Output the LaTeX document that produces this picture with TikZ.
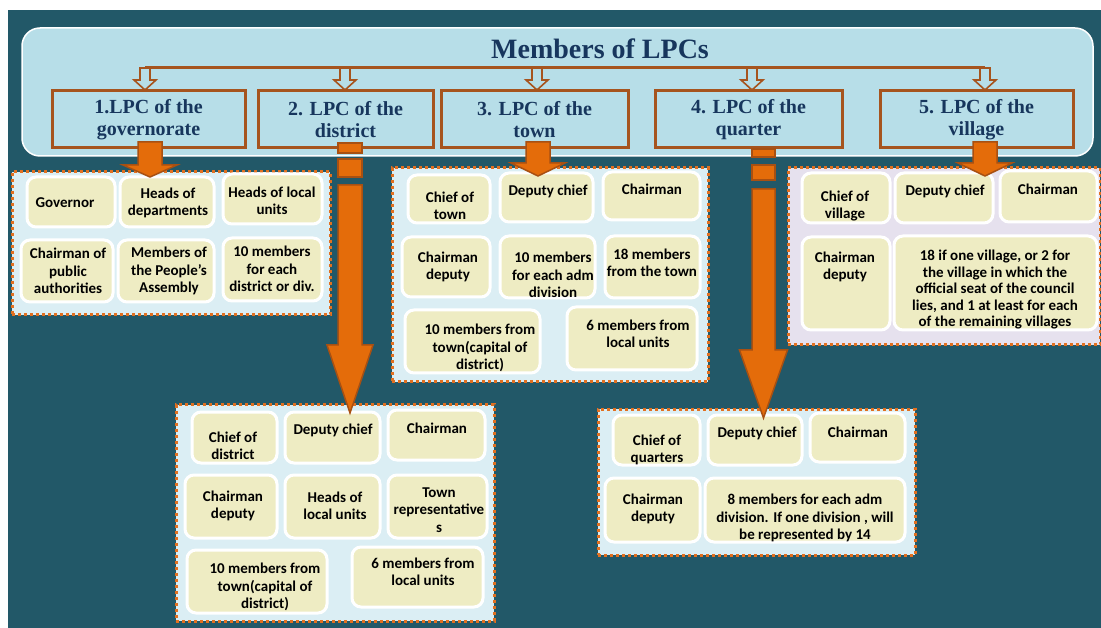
\documentclass[tikz,border=0pt]{standalone}
\usepackage{fontspec}
\setmainfont{Carlito}
\newfontfamily\serifbold{Liberation Serif}
\definecolor{darkbg}{RGB}{34,88,104}
\definecolor{hdrblue}{RGB}{183,222,232}
\definecolor{brownc}{RGB}{166,84,30}
\definecolor{navy}{RGB}{23,54,93}
\definecolor{orangef}{RGB}{228,108,10}
\definecolor{oranged}{RGB}{168,80,18}
\definecolor{grpblue}{RGB}{219,238,244}
\definecolor{grplav}{RGB}{230,225,238}
\definecolor{cellc}{RGB}{238,236,195}
\definecolor{dotc}{RGB}{226,112,32}
\tikzset{
  cell/.style={draw=white, line width=3pt, fill=cellc, rounded corners=9pt, inner sep=0pt},
  grp/.style={draw=dotc, line width=3pt, dash pattern=on 3pt off 3pt, fill=grpblue, inner sep=0pt},
  lpcbox/.style={draw=brownc, line width=3pt, fill=hdrblue, inner sep=0pt},
  ctext/.style={inner sep=0pt, align=center, text=black, font=\bfseries\fontsize{15}{17.5}\selectfont},
  ltext/.style={inner sep=0pt, align=center, text=navy, font=\serifbold\bfseries\fontsize{20}{22.5}\selectfont},
  barrow/.style={draw=oranged, line width=1.5pt, fill=orangef},
  harrow/.style={draw=brownc, line width=1.6pt, fill=hdrblue},
}
\newcommand{\boxat}[6]{% style name x1 y1 x2 y2
  \pgfmathsetmacro\bw{#5-#3}\pgfmathsetmacro\bh{#6-#4}%
  \node[#1, minimum width=\bw pt, minimum height=\bh pt] (#2) at ({(#3+#5)/2},{(#4+#6)/2}) {};}
\newcommand{\bigarrow}[6]{% x ytop yhead ytip shaftw headw
  \draw[barrow] ({#1-#5/2},#2) -- ({#1+#5/2},#2) -- ({#1+#5/2},#3) -- ({#1+#6/2},#3) -- (#1,#4) -- ({#1-#6/2},#3) -- ({#1-#5/2},#3) -- cycle;}
\newcommand{\hollowarrow}[1]{%
  \draw[harrow] ({#1-5},68) -- ({#1+5},68) -- ({#1+5},80) -- ({#1+11},80) -- (#1,90) -- ({#1-11},80) -- ({#1-5},80) -- cycle;}
\begin{document}
\begin{tikzpicture}[x=1pt,y=-1pt]
\useasboundingbox (0,0) rectangle (1101,628);
\fill[white] (0,0) rectangle (1101,628);
\fill[darkbg] (8,10) rectangle (1101,628);
% header
\node[draw=white, line width=1.5pt, fill=hdrblue, rounded corners=18pt, minimum width=1071pt, minimum height=128pt, inner sep=0pt] (header) at (557.5,92) {};
\node[inner sep=0pt, text=navy, font=\serifbold\bfseries\fontsize{28}{30}\selectfont] (title) at (600,49) {Members of LPCs};
\draw[brownc, line width=3pt] (145,68) coordinate (hl) -- (985,68) coordinate (hr);
\hollowarrow{145}\hollowarrow{345}\hollowarrow{537}\hollowarrow{752}\hollowarrow{985}
% LPC boxes
\boxat{lpcbox}{b1}{52}{91}{245}{148}
\boxat{lpcbox}{b2}{258}{91}{433}{148}
\boxat{lpcbox}{b3}{441}{91}{628}{148}
\boxat{lpcbox}{b4}{655}{91}{842}{148}
\boxat{lpcbox}{b5}{880}{91}{1073}{148}
\node[ltext] (b1t) at (b1) {1.LPC of the\\governorate};
\node[ltext] (b2t) at (b2) {2. LPC of the\\district};
\node[ltext] (b3t) at (b3) {3. LPC of the\\town};
\node[ltext] (b4t) at (b4) {4. LPC of the\\quarter};
\node[ltext] (b5t) at (b5) {5. LPC of the\\village};
% groups
\boxat{grp}{g1}{12}{172}{330}{315}
\boxat{grp}{g3}{392}{168}{708}{382}
\boxat{grp, fill=grplav}{g5}{788}{168}{1100}{345}
\boxat{grp}{g2}{176}{405}{494}{621}
\boxat{grp}{g4}{598}{409}{915}{555}
% G1 cells
\boxat{cell}{c11}{27}{177}{115}{227}
\boxat{cell}{c12}{120}{177}{214}{227}
\boxat{cell}{c13}{223}{174}{322}{224}
\boxat{cell}{c14}{21}{240}{113}{302}
\boxat{cell}{c15}{118}{240}{214}{302}
\boxat{cell}{c16}{223}{238}{322}{301}
\node[ctext] (c11t) at (65,203) {Governor};
\node[ctext] (c12t) at (168,203) {Heads of\\departments};
\node[ctext] (c13t) at (272,201) {Heads of local\\units};
\node[ctext] (c14t) at (68,271) {Chairman of\\public\\authorities};
\node[ctext] (c15t) at (169,271) {Members of\\the People's\\Assembly};
\node[ctext] (c16t) at (272,269) {10 members\\for each\\district or div.};
% G3 cells
\boxat{cell}{c31}{408}{175}{490}{223}
\boxat{cell}{c32}{500}{173}{593}{222}
\boxat{cell}{c33}{603}{172}{700}{220}
\boxat{cell}{c34}{402}{237}{490}{297}
\boxat{cell}{c35}{500}{236}{595}{298}
\boxat{cell}{c36}{605}{236}{700}{298}
\boxat{cell}{c37}{405}{310}{540}{373}
\boxat{cell}{c38}{567}{307}{697}{370}
\node[ctext] (c31t) at (450,206) {Chief of\\town};
\node[ctext] (c32t) at (548,191) {Deputy chief};
\node[ctext] (c33t) at (652,189) {Chairman};
\node[ctext] (c34t) at (448,267) {Chairman\\deputy};
\node[ctext] (c35t) at (553,275) {10 members\\for each adm\\division};
\node[ctext] (c36t) at (652,263) {18 members\\from the town};
\node[ctext] (c37t) at (480,348) {10 members from\\town(capital of\\district)};
\node[ctext] (c38t) at (638,334) {6 members from\\local units};
% G5 cells
\boxat{cell}{c51}{802}{173}{890}{223}
\boxat{cell}{c52}{895}{173}{993}{223}
\boxat{cell}{c53}{1000}{171}{1097}{222}
\boxat{cell}{c54}{802}{237}{890}{330}
\boxat{cell}{c55}{894}{236}{1097}{330}
\node[ctext] (c51t) at (845,206) {Chief of\\village};
\node[ctext] (c52t) at (945,191) {Deputy chief};
\node[ctext] (c53t) at (1048,189) {Chairman};
\node[ctext] (c54t) at (845,267) {Chairman\\deputy};
\node[ctext, font=\bfseries\fontsize{15}{16.5}\selectfont] (c55t) at (995,290) {18 if one village, or 2 for\\the village in which the\\official seat of the council\\lies, and 1 at least for each\\of the remaining villages};
% G2 cells
\boxat{cell}{c21}{192}{412}{277}{463}
\boxat{cell}{c22}{285}{412}{380}{463}
\boxat{cell}{c23}{388}{410}{485}{460}
\boxat{cell}{c24}{185}{475}{277}{538}
\boxat{cell}{c25}{285}{475}{380}{538}
\boxat{cell}{c26}{388}{475}{487}{538}
\boxat{cell}{c27}{187}{550}{327}{613}
\boxat{cell}{c28}{352}{547}{483}{607}
\node[ctext] (c21t) at (233,446) {Chief of\\district};
\node[ctext] (c22t) at (333,430) {Deputy chief};
\node[ctext] (c23t) at (437,428) {Chairman};
\node[ctext] (c24t) at (233,506) {Chairman\\deputy};
\node[ctext] (c25t) at (335,506) {Heads of\\local units};
\node[ctext] (c26t) at (439,510) {Town\\representative\\s};
\node[ctext] (c27t) at (265,587) {10 members from\\town(capital of\\district)};
\node[ctext] (c28t) at (423,572) {6 members from\\local units};
% G4 cells
\boxat{cell}{c41}{613}{415}{700}{465}
\boxat{cell}{c42}{708}{415}{802}{465}
\boxat{cell}{c43}{810}{413}{905}{462}
\boxat{cell}{c44}{605}{478}{700}{542}
\boxat{cell}{c45}{705}{478}{905}{542}
\node[ctext] (c41t) at (657,450) {Chief of\\quarters};
\node[ctext] (c42t) at (757,433) {Deputy chief};
\node[ctext] (c43t) at (858,432) {Chairman};
\node[ctext] (c44t) at (653,509) {Chairman\\deputy};
\node[ctext] (c45t) at (805,518) {8 members for each adm\\division. If one division , will\\be represented by 14};
% thick arrows
\bigarrow{150}{142}{165}{177}{24}{54}
\bigarrow{538}{142}{163}{176}{24}{54}
\bigarrow{985}{142}{163}{176}{24}{54}
\draw[barrow] (338,143) rectangle (362,153);
\draw[barrow] (338,159) rectangle (362,177);
\bigarrow{350}{185}{345}{413}{24}{46}
\draw[barrow] (752,149) rectangle (775,157);
\draw[barrow] (752,165) rectangle (775,180);
\bigarrow{763.5}{189}{350}{418}{23}{48}
\end{tikzpicture}
\end{document}
